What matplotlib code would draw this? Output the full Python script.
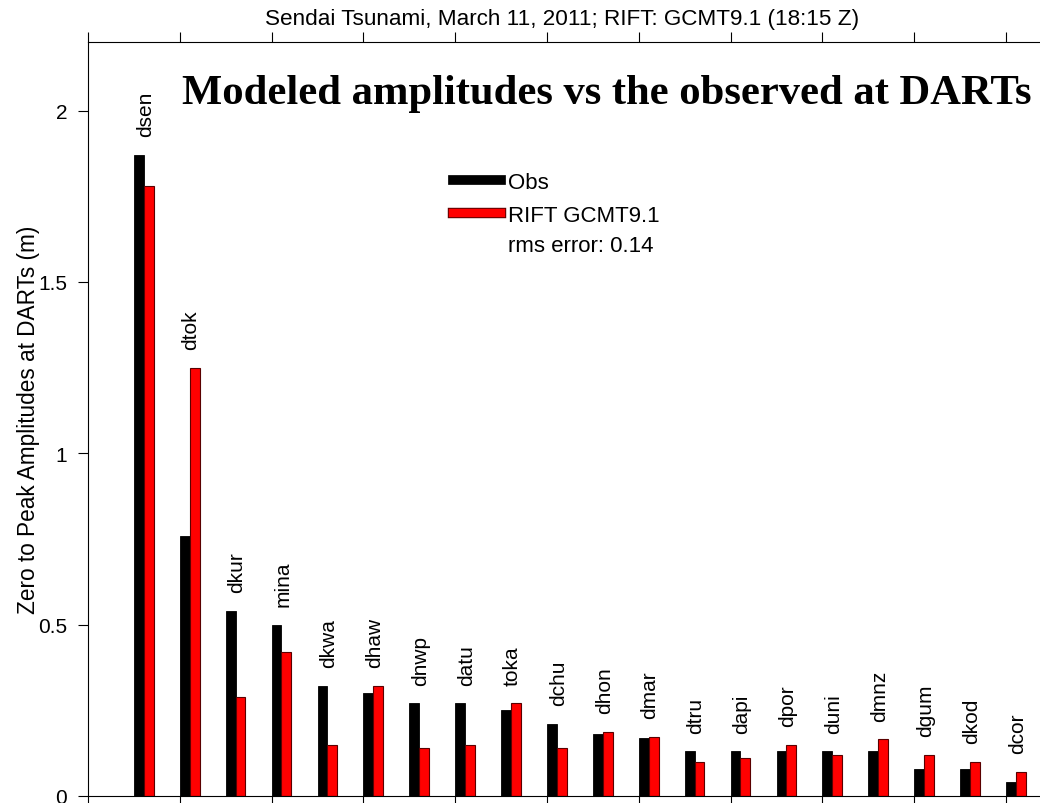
import numpy as np
import matplotlib
matplotlib.use("Agg")
import matplotlib.pyplot as plt
import matplotlib.patheffects as pe
from matplotlib.lines import Line2D

# DART stations, observed vs modeled zero-to-peak amplitudes (m)
stations = ['dsen', 'dtok', 'dkur', 'mina', 'dkwa', 'dhaw', 'dnwp', 'datu', 'toka', 'dchu',
            'dhon', 'dmar', 'dtru', 'dapi', 'dpor', 'duni', 'dmnz', 'dgum', 'dkod', 'dcor']
obs = [1.87, 0.76, 0.54, 0.50, 0.32, 0.30, 0.27, 0.27, 0.25, 0.21,
       0.18, 0.17, 0.13, 0.13, 0.13, 0.13, 0.13, 0.08, 0.08, 0.04]
model = [1.78, 1.25, 0.29, 0.42, 0.15, 0.32, 0.14, 0.15, 0.27, 0.14,
         0.187, 0.172, 0.10, 0.11, 0.15, 0.12, 0.165, 0.12, 0.10, 0.07]
rms_err = 0.14

plt.rcParams['font.family'] = ['Liberation Sans', 'DejaVu Sans']

fig = plt.figure(figsize=(10.4, 8.04), dpi=100)
W, H = 1040.0, 804.0
unit = 45.9
ax_w = 22 * unit
ax = fig.add_axes([88 / W, 7 / H, ax_w / W, 754 / H])

x = np.arange(1, len(stations) + 1)
w = 0.215
ax.bar(x, obs, width=w, align='edge', color='black', edgecolor='black', linewidth=0.6)
ax.bar(x + w, model, width=w, align='edge', color='#ff0000', edgecolor='#5a0000', linewidth=0.8)

# station names above each pair
for xi, name, o, m in zip(x, stations, obs, model):
    ax.text(xi + w + 0.03, max(o, m) + 0.055, name, rotation=90, ha='center', va='bottom',
            fontsize=15)

ax.set_xlim(0, 22)
ax.set_ylim(0, 2.2)
ax.set_xticks(np.arange(0, 23, 2))
ax.set_xticklabels([])
ax.set_yticks([0, 0.5, 1, 1.5, 2])
ax.set_yticklabels(['0', '0.5', '1', '1.5', '2'])
ax.tick_params(axis='both', direction='out', length=7, width=0.8, labelsize=15, pad=8)
ax.tick_params(axis='x', top=True, bottom=True)
ax.tick_params(axis='y', left=True, right=False)
for s in ax.spines.values():
    s.set_linewidth(0.8)
ax.set_ylabel('Zero to Peak Amplitudes at DARTs (m)', fontsize=16.3)
ax.yaxis.set_label_coords((40 - 88) / ax_w, 0.5)

# legend
h_obs = Line2D([], [], color='black', linewidth=7)
h_mod = Line2D([], [], color='#ff0000', linewidth=6,
               path_effects=[pe.Stroke(linewidth=7.5, foreground='#5a0000'), pe.Normal()])
ax.legend([h_obs, h_mod], ['Obs', 'RIFT GCMT9.1'], loc='upper left',
          bbox_to_anchor=((453 - 88) / ax_w, 1 - (173 - 43) / 754.0),
          borderpad=0, borderaxespad=0, frameon=False, fontsize=16,
          handlelength=2.16, handletextpad=0.3, labelspacing=0.55)
fig.text(508 / W, 1 - 246 / H, 'rms error: %.2f' % rms_err, fontsize=16, ha='left', va='center')

fig.text(562 / W, 1 - 20 / H, 'Sendai Tsunami, March 11, 2011; RIFT: GCMT9.1 (18:15 Z)',
         fontsize=16.2, ha='center', va='center')
fig.text(182 / W, 1 - 104 / H, 'Modeled amplitudes vs the observed at DARTs',
         fontsize=30.7, fontweight='bold', family='Liberation Serif', ha='left', va='baseline')

fig.savefig('out.png', dpi=100)
